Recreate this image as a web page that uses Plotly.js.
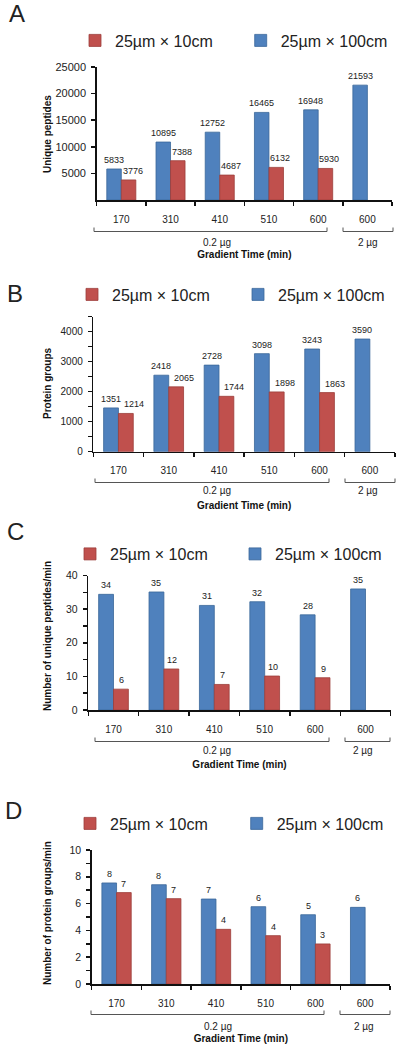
<!DOCTYPE html>
<html>
<head>
<meta charset="utf-8">
<script src="https://cdn.plot.ly/plotly-3.0.1.min.js"></script>
<style>
html,body{margin:0;padding:0;background:#fff;}
#chart{width:400px;height:1052px;}
</style>
</head>
<body>
<div id="chart"></div>
<script>
// ---------- data ----------
const categories = ["170", "310", "410", "510", "600", "600"];
const seriesNames = ["25µm × 10cm", "25µm × 100cm"];
const groupLabels = ["0.2 µg", "2 µg"];
const panelLetters = ["A", "B", "C", "D"];
const yTitles = ["Unique peptides", "Protein groups", "Number of unique peptides/min", "Number of protein groups/min"];
const xTitle = "Gradient Time (min)";

// A: unique peptides
const peptides10cm = [3776, 7388, 4687, 6132, 5930, null];
const peptides100cm = [5833, 10895, 12752, 16465, 16948, 21593];
const peptides10cmLabels = ["3776", "7388", "4687", "6132", "5930", ""];
const peptides100cmLabels = ["5833", "10895", "12752", "16465", "16948", "21593"];

// B: protein groups (bar heights as drawn; printed labels)
const proteins10cm = [1275, 2161, 1846, 1993, 1970, null];
const proteins100cm = [1460, 2550, 2886, 3268, 3423, 3756];
const proteins10cmLabels = ["1214", "2065", "1744", "1898", "1863", ""];
const proteins100cmLabels = ["1351", "2418", "2728", "3098", "3243", "3590"];

// C: unique peptides per min
const pepPerMin10cm = [6.2, 12.2, 7.6, 10.1, 9.6, null];
const pepPerMin100cm = [34.4, 35.1, 31.1, 32.2, 28.3, 36.0];
const pepPerMin10cmLabels = ["6", "12", "7", "10", "9", ""];
const pepPerMin100cmLabels = ["34", "35", "31", "32", "28", "35"];

// D: protein groups per min
const protPerMin10cm = [6.82, 6.37, 4.08, 3.61, 2.99, null];
const protPerMin100cm = [7.54, 7.41, 6.34, 5.77, 5.17, 5.72];
const protPerMin10cmLabels = ["7", "7", "4", "4", "3", ""];
const protPerMin100cmLabels = ["8", "8", "7", "6", "5", "6"];

// y-axis ticks
const yTicksA = [5000, 10000, 15000, 20000, 25000];
const yTicksB = [0, 1000, 2000, 3000, 4000];
const yTicksC = [0, 10, 20, 30, 40];
const yTicksD = [0, 2, 4, 6, 8, 10];

// ---------- layout geometry (pixels) ----------
const W = 400, H = 1052;
const px = v => v / W;
const py = v => 1 - v / H;

const panelSeries = [
  {red: peptides10cm, blue: peptides100cm, redText: peptides10cmLabels, blueText: peptides100cmLabels},
  {red: proteins10cm, blue: proteins100cm, redText: proteins10cmLabels, blueText: proteins100cmLabels},
  {red: pepPerMin10cm, blue: pepPerMin100cm, redText: pepPerMin10cmLabels, blueText: pepPerMin100cmLabels},
  {red: protPerMin10cm, blue: protPerMin100cm, redText: protPerMin10cmLabels, blueText: protPerMin100cmLabels}
];

const geom = [
  {x0: 96.7, x1: 392, yb: 200, yt: 67, range: [0, 25000], ticks: yTicksA, minorStep: null, tickSize: 11,
   letter: [17, 13.5], legendRed: 75, legendBlue: 240.7, legendY: 40.5,
   brY: 231.5, brA: [94, 327], brB: [343, 393], gY: 242.7, gA: 217, gB: 368, yTitle: [47, 134], redShift: 4},
  {x0: 93.3, x1: 395, yb: 451.7, yt: 316.7, range: [0, 4500], ticks: yTicksB, minorStep: 500, tickSize: 10,
   letter: [15, 293.5], legendRed: 72, legendBlue: 238, legendY: 294.5,
   brY: 482.5, brA: [95, 329], brB: [345, 395], gY: 491, gA: 217, gB: 368, yTitle: [47, 383], redShift: 8},
  {x0: 88.3, x1: 390.7, yb: 710, yt: 575.5, range: [0, 40], ticks: yTicksC, minorStep: 5, tickSize: 10.5,
   letter: [15, 531.5], legendRed: 70, legendBlue: 235, legendY: 554,
   brY: 741.5, brA: [95, 329], brB: [345, 390], gY: 750, gA: 217, gB: 363, yTitle: [47, 636], redShift: 1},
  {x0: 91.7, x1: 390, yb: 984, yt: 850, range: [0, 10], ticks: yTicksD, minorStep: 1, tickSize: 10.5,
   letter: [13.5, 810.5], legendRed: 70, legendBlue: 236.7, legendY: 823.5,
   brY: 1014.5, brA: [91, 324], brB: [340, 390], gY: 1026, gA: 218, gB: 364, yTitle: [47, 913], redShift: 0}
];

const xs = categories.map((_, i) => i);
const boundaries = categories.map((_, i) => i - 0.5).concat([categories.length - 0.5]);
const BARGAP = 0.41;
const halfBar = (1 - BARGAP) / 4;   // offset of each bar centre from the category centre

const BLUE = "#4F81BD", RED = "#C0504D";
const traces = [];
const layout = {
  width: W, height: H,
  margin: {l: 0, r: 0, t: 0, b: 0},
  paper_bgcolor: "#fff", plot_bgcolor: "rgba(0,0,0,0)",
  font: {family: "Liberation Sans, Arial, sans-serif", color: "#222", size: 10},
  barmode: "group", bargap: BARGAP, bargroupgap: 0,
  hovermode: false, showlegend: true,
  annotations: [], shapes: []
};
const legendId = n => (n === 1 ? "legend" : "legend" + n);
const legendBox = (xPix, yPix) => ({
  orientation: "h", x: px(xPix), xanchor: "left", y: py(yPix), yanchor: "middle",
  font: {size: 16, color: "#222"}, bgcolor: "rgba(0,0,0,0)", borderwidth: 0,
  itemclick: false, itemdoubleclick: false
});

geom.forEach((g, i) => {
  const sfx = i === 0 ? "" : String(i + 1);
  const s = panelSeries[i];
  const redLegend = legendId(2 * i + 1), blueLegend = legendId(2 * i + 2);
  const common = {type: "bar", x: xs, xaxis: "x" + sfx, yaxis: "y" + sfx, showlegend: true, hoverinfo: "skip"};
  traces.push(Object.assign({}, common, {
    y: s.blue, name: seriesNames[1], legend: blueLegend,
    marker: {color: BLUE, line: {color: "#3A6799", width: 0.8}}
  }));
  traces.push(Object.assign({}, common, {
    y: s.red, name: seriesNames[0], legend: redLegend,
    marker: {color: RED, line: {color: "#9C3D3A", width: 0.8}}
  }));
  layout[redLegend] = legendBox(g.legendRed, g.legendY);
  layout[blueLegend] = legendBox(g.legendBlue, g.legendY);

  // value labels above each bar
  const addLabels = (vals, texts, off, shift) => {
    vals.forEach((v, k) => {
      if (v === null || !texts[k]) return;
      layout.annotations.push({
        text: texts[k], xref: "x" + sfx, yref: "y" + sfx, x: xs[k] + off, y: v,
        xanchor: "center", yanchor: "bottom", yshift: 2, xshift: shift, showarrow: false,
        font: {size: 9, color: "#222"}
      });
    });
  };
  addLabels(s.blue, s.blueText, -halfBar, 0);
  addLabels(s.red, s.redText, halfBar, g.redShift);

  layout["xaxis" + sfx] = {
    domain: [px(g.x0), px(g.x1)], anchor: "y" + sfx, range: [-0.5, categories.length - 0.5],
    tickmode: "array", tickvals: xs, ticktext: categories,
    ticks: "", showline: true, linecolor: "#111", linewidth: 1.5,
    showgrid: false, zeroline: false, fixedrange: true,
    tickfont: {size: 10, color: "#222"}, ticklabelstandoff: 9,
    minor: {tickmode: "array", tickvals: boundaries, ticks: "outside", ticklen: 4, tickwidth: 1.5, tickcolor: "#111"},
    title: {text: xTitle, font: {size: 10, weight: "bold", color: "#111"}, standoff: 27}
  };
  const minorVals = [];
  if (g.minorStep) for (let v = g.range[0]; v <= g.range[1] + 1e-9; v += g.minorStep) minorVals.push(v);
  layout["yaxis" + sfx] = {
    domain: [py(g.yb), py(g.yt)], anchor: "x" + sfx, range: g.range,
    tickmode: "array", tickvals: g.ticks, tickformat: "d",
    ticks: "outside", ticklen: 4, tickwidth: 1.5, tickcolor: "#111",
    showline: true, linecolor: "#111", linewidth: 1.5,
    showgrid: false, zeroline: false, fixedrange: true,
    tickfont: {size: g.tickSize, color: "#222"}, ticklabelstandoff: 3,
    minor: g.minorStep ? {tickmode: "array", tickvals: minorVals, ticks: "outside", ticklen: 4, tickwidth: 1.5, tickcolor: "#111"} : undefined
  };

  // y-axis title
  layout.annotations.push({
    text: "<b>" + yTitles[i] + "</b>", xref: "paper", yref: "paper", x: px(g.yTitle[0]), y: py(g.yTitle[1]),
    xanchor: "center", yanchor: "middle", textangle: -90, showarrow: false, font: {size: 10, color: "#111"}
  });
  // panel letter
  layout.annotations.push({
    text: panelLetters[i], xref: "paper", yref: "paper", x: px(g.letter[0]), y: py(g.letter[1]),
    xanchor: "center", yanchor: "middle", showarrow: false, font: {size: 24, color: "#222"}
  });
  // sample-amount groups with brackets
  layout.annotations.push({
    text: groupLabels[0], xref: "paper", yref: "paper", x: px(g.gA), y: py(g.gY),
    xanchor: "center", yanchor: "middle", showarrow: false, font: {size: 10, color: "#222"}
  });
  layout.annotations.push({
    text: groupLabels[1], xref: "paper", yref: "paper", x: px(g.gB), y: py(g.gY),
    xanchor: "center", yanchor: "middle", showarrow: false, font: {size: 10, color: "#222"}
  });
  [g.brA, g.brB].forEach(b => {
    layout.shapes.push({
      type: "path", xref: "paper", yref: "paper",
      path: `M ${px(b[0])},${py(g.brY - 4)} L ${px(b[0])},${py(g.brY)} L ${px(b[1])},${py(g.brY)} L ${px(b[1])},${py(g.brY - 4)}`,
      line: {color: "#555", width: 1}
    });
  });
});

Plotly.newPlot("chart", traces, layout, {displayModeBar: false, staticPlot: true});
</script>
</body>
</html>
